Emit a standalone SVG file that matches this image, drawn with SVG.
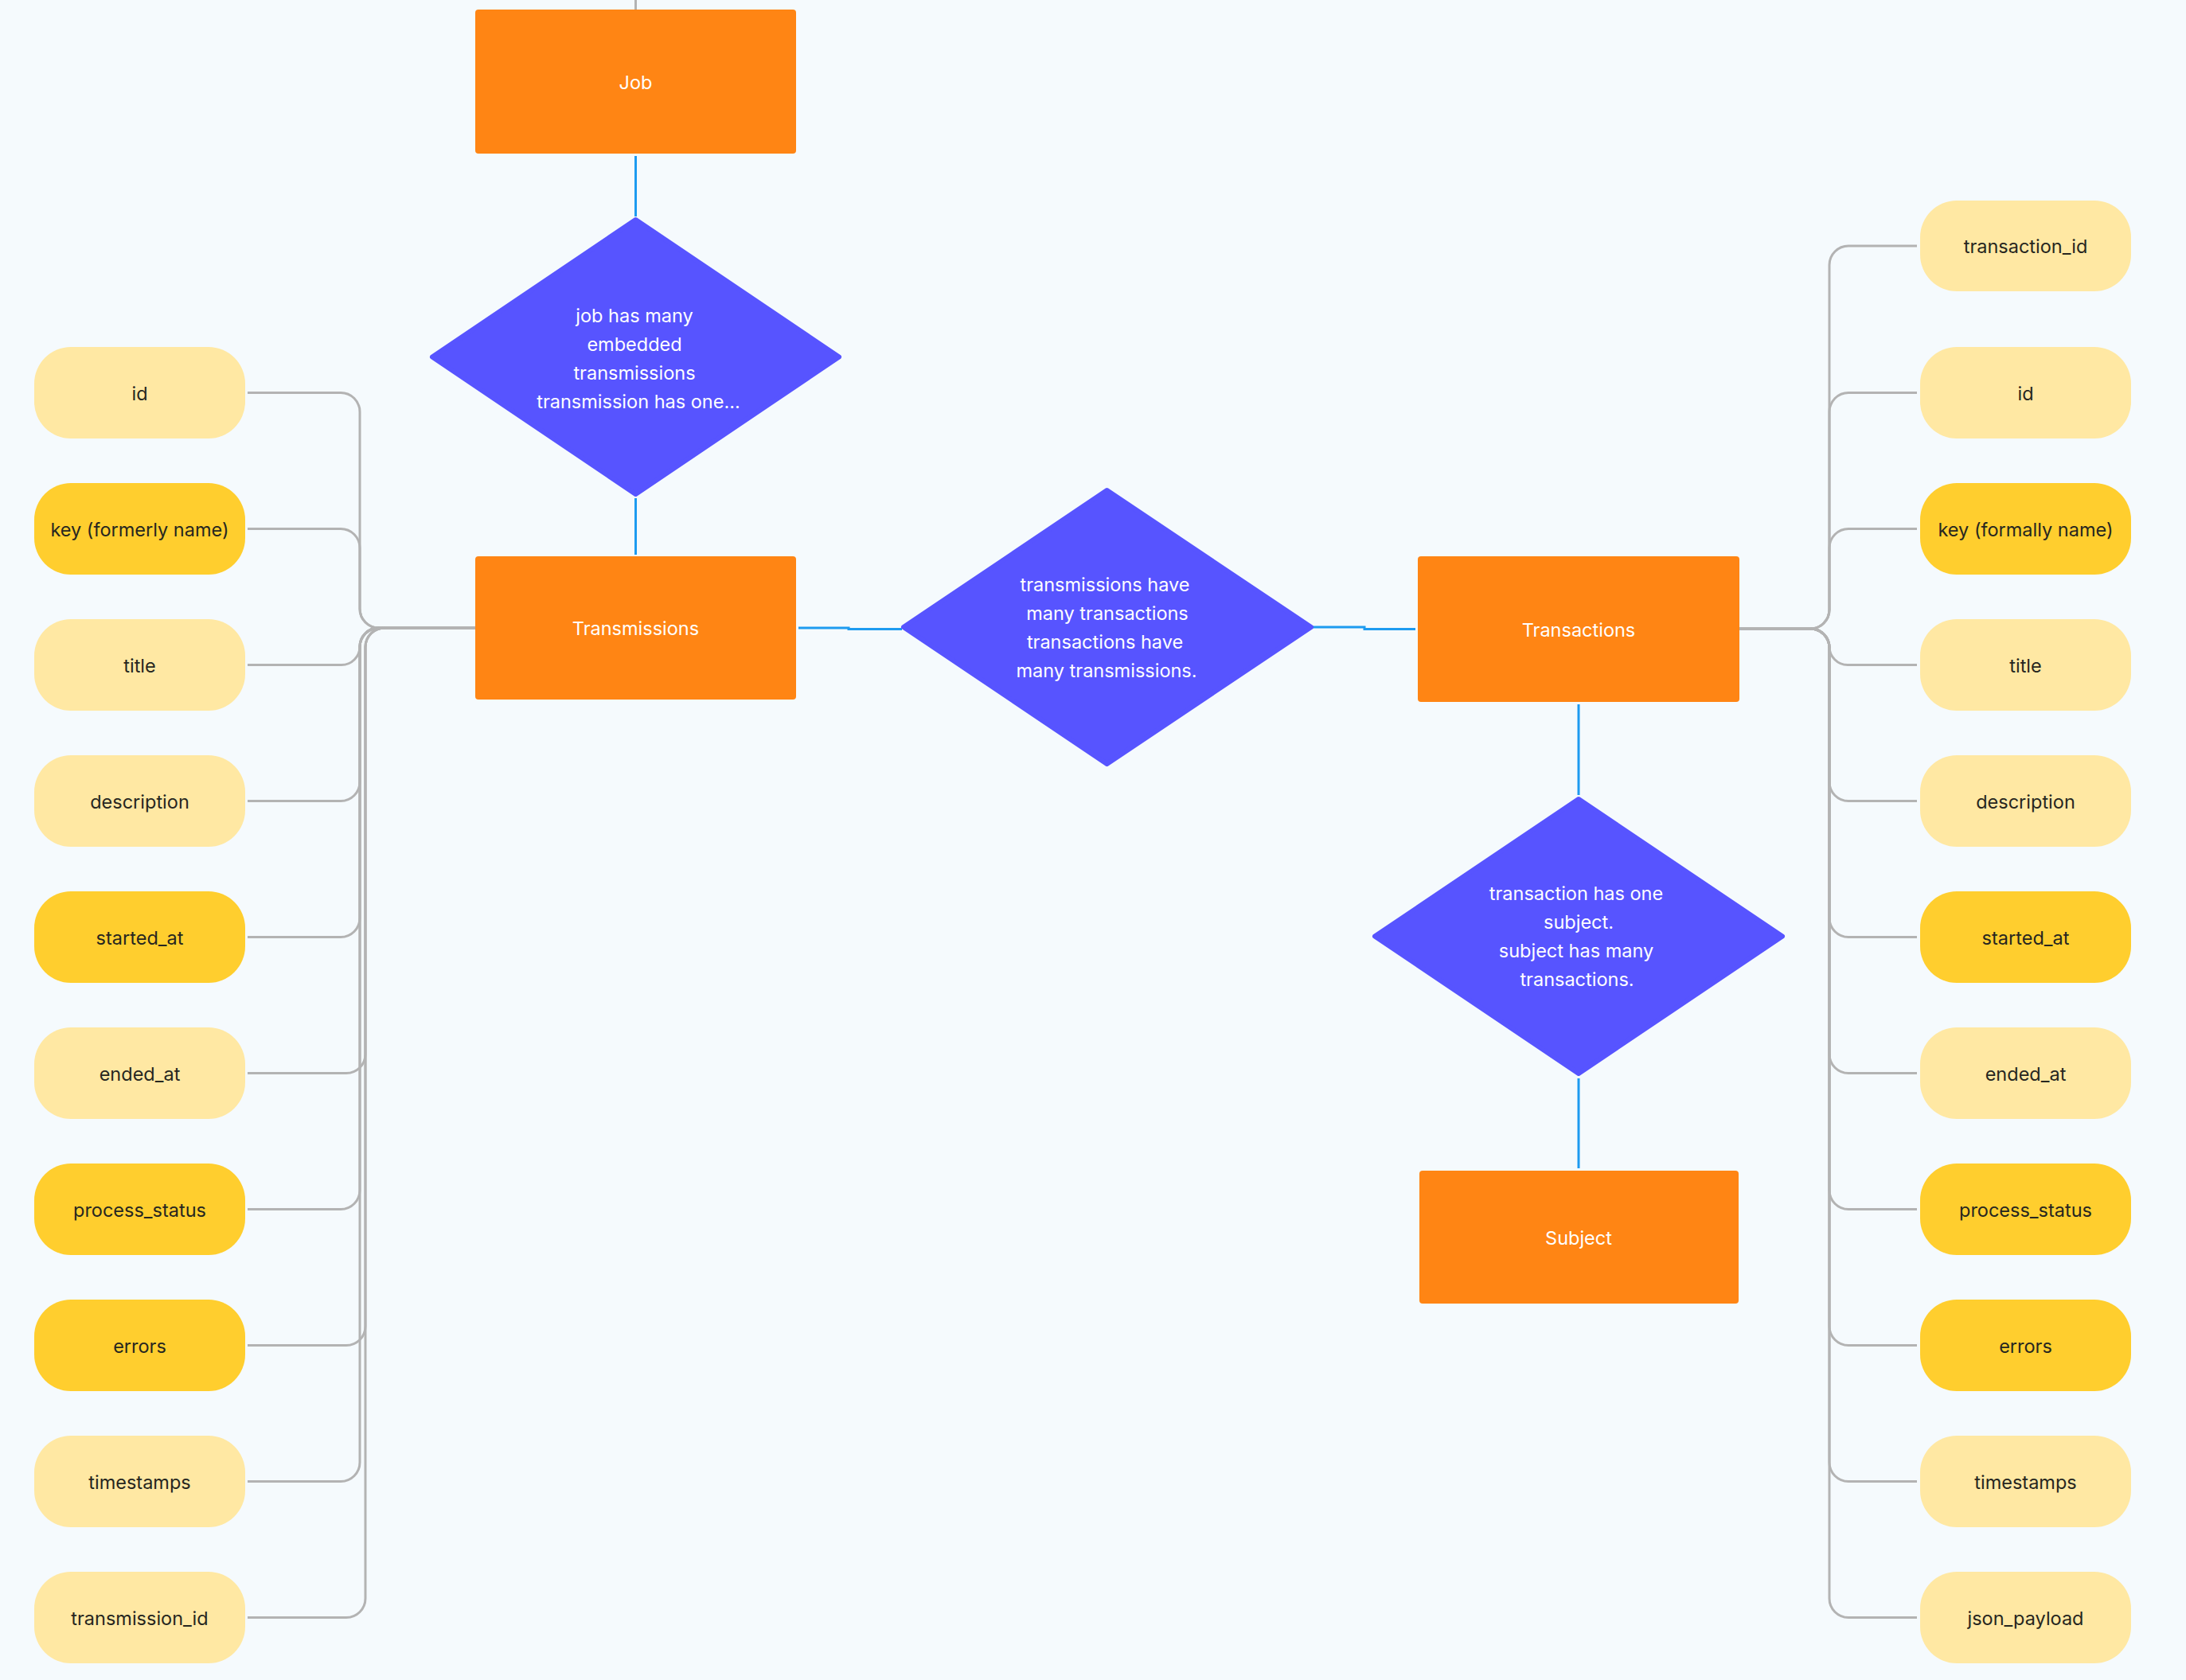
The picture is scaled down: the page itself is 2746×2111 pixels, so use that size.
<svg xmlns="http://www.w3.org/2000/svg" width="2746" height="2111" viewBox="0 0 2746 2111">
  <defs>
    <style>
      .bg { fill: #F5FAFD; }
      .entity { fill: #FF8514; }
      .rel { fill: #5754FF; stroke: #5754FF; stroke-width: 6; stroke-linejoin: round; }
      .attr-opt { fill: #FFE8A3; }
      .attr-req { fill: #FFCE2E; }
      .lbl { font-family: Inter, "Noto Sans", "Liberation Sans", sans-serif; font-size: 23.5px; text-anchor: middle; }
      .lbl-light { fill: #FFFFFF; }
      .lbl-dark { fill: #262620; }
      .link { fill: none; stroke: #1D9BF0; stroke-width: 3; }
      .attr-link { fill: none; stroke: #B3B3B3; stroke-width: 3; }
    </style>
  </defs>

  <rect class="bg" x="0" y="0" width="2746" height="2111"/>

  <!-- connectors -->
  <g id="connectors">
    <!-- relationship links -->
    <path class="attr-link" d="M798.5 0 V12"/>
    <path class="link" d="M798.5 196 V272"/>
    <path class="link" d="M798.5 626 V697"/>
    <path class="link" d="M1003 789 H1066 V790.5 H1133"/>
    <path class="link" d="M1649 788 H1714 V790.5 H1778"/>
    <path class="link" d="M1983 885 V999"/>
    <path class="link" d="M1983 1355 V1468"/>

    <!-- Transmissions attributes, trunk at x=452 -->
    <path class="attr-link" d="M311 493.5 H428 A24 24 0 0 1 452 517.5 V765 A24 24 0 0 0 476 789 H597"/>
    <path class="attr-link" d="M311 664.5 H428 A24 24 0 0 1 452 688.5 V765 A24 24 0 0 0 476 789 H597"/>
    <path class="attr-link" d="M597 789 H475 A23 23 0 0 0 452 812 V812.5 A23 23 0 0 1 429 835.5 H311"/>
    <path class="attr-link" d="M597 789 H476 A24 24 0 0 0 452 813 V982.5 A24 24 0 0 1 428 1006.5 H311"/>
    <path class="attr-link" d="M597 789 H476 A24 24 0 0 0 452 813 V1153.5 A24 24 0 0 1 428 1177.5 H311"/>
    <path class="attr-link" d="M597 789 H476 A24 24 0 0 0 452 813 V1495.5 A24 24 0 0 1 428 1519.5 H311"/>
    <path class="attr-link" d="M597 789 H476 A24 24 0 0 0 452 813 V1837.5 A24 24 0 0 1 428 1861.5 H311"/>
    <!-- Transmissions attributes, trunk at x=459 -->
    <path class="attr-link" d="M597 789 H483 A24 24 0 0 0 459 813 V1324.5 A24 24 0 0 1 435 1348.5 H311"/>
    <path class="attr-link" d="M597 789 H483 A24 24 0 0 0 459 813 V1666.5 A24 24 0 0 1 435 1690.5 H311"/>
    <path class="attr-link" d="M597 789 H483 A24 24 0 0 0 459 813 V2008.5 A24 24 0 0 1 435 2032.5 H311"/>

    <!-- Transactions attributes, trunk at x=2298 -->
    <path class="attr-link" d="M2185 790 H2274 A24 24 0 0 0 2298 766 V333 A24 24 0 0 1 2322 309 H2408"/>
    <path class="attr-link" d="M2185 790 H2274 A24 24 0 0 0 2298 766 V517.5 A24 24 0 0 1 2322 493.5 H2408"/>
    <path class="attr-link" d="M2185 790 H2274 A24 24 0 0 0 2298 766 V688.5 A24 24 0 0 1 2322 664.5 H2408"/>
    <path class="attr-link" d="M2185 790 H2275 A23 23 0 0 1 2298 813 V812.5 A23 23 0 0 0 2321 835.5 H2408"/>
    <path class="attr-link" d="M2185 790 H2274 A24 24 0 0 1 2298 814 V982.5 A24 24 0 0 0 2322 1006.5 H2408"/>
    <path class="attr-link" d="M2185 790 H2274 A24 24 0 0 1 2298 814 V1153.5 A24 24 0 0 0 2322 1177.5 H2408"/>
    <path class="attr-link" d="M2185 790 H2274 A24 24 0 0 1 2298 814 V1324.5 A24 24 0 0 0 2322 1348.5 H2408"/>
    <path class="attr-link" d="M2185 790 H2274 A24 24 0 0 1 2298 814 V1495.5 A24 24 0 0 0 2322 1519.5 H2408"/>
    <path class="attr-link" d="M2185 790 H2274 A24 24 0 0 1 2298 814 V1666.5 A24 24 0 0 0 2322 1690.5 H2408"/>
    <path class="attr-link" d="M2185 790 H2274 A24 24 0 0 1 2298 814 V1837.5 A24 24 0 0 0 2322 1861.5 H2408"/>
    <path class="attr-link" d="M2185 790 H2274 A24 24 0 0 1 2298 814 V2008.5 A24 24 0 0 0 2322 2032.5 H2408"/>
  </g>

  <!-- entities -->
  <g id="job">
    <rect class="entity" x="597" y="12" width="403" height="181" rx="4"/>
    <text class="lbl lbl-light" x="798.5" y="112">Job</text>
  </g>
  <g id="transmissions">
    <rect class="entity" x="597" y="699" width="403" height="180" rx="4"/>
    <text class="lbl lbl-light" x="798.5" y="798">Transmissions</text>
  </g>
  <g id="transactions">
    <rect class="entity" x="1781" y="699" width="404" height="183" rx="4"/>
    <text class="lbl lbl-light" x="1983" y="800">Transactions</text>
  </g>
  <g id="subject">
    <rect class="entity" x="1783" y="1471" width="401" height="167" rx="4"/>
    <text class="lbl lbl-light" x="1983" y="1564">Subject</text>
  </g>

  <!-- relationships -->
  <g id="rel-job-transmissions">
    <path class="rel" d="M798.5 276 L1054 448.5 L798.5 621 L543 448.5 Z"/>
    <text class="lbl lbl-light" x="797" y="405">job has many</text>
    <text class="lbl lbl-light" x="797" y="441">embedded</text>
    <text class="lbl lbl-light" x="797" y="477">transmissions</text>
    <text class="lbl lbl-light" x="802" y="513">transmission has one...</text>
  </g>
  <g id="rel-transmissions-transactions">
    <path class="rel" d="M1390.5 616 L1647 788 L1390.5 960 L1135 788 Z"/>
    <text class="lbl lbl-light" x="1388" y="743">transmissions have</text>
    <text class="lbl lbl-light" x="1391" y="779">many transactions</text>
    <text class="lbl lbl-light" x="1388" y="815">transactions have</text>
    <text class="lbl lbl-light" x="1390" y="851">many transmissions.</text>
  </g>
  <g id="rel-transaction-subject">
    <path class="rel" d="M1983 1004 L2239 1176.5 L1983 1349 L1727 1176.5 Z"/>
    <text class="lbl lbl-light" x="1980" y="1131">transaction has one</text>
    <text class="lbl lbl-light" x="1983" y="1167">subject.</text>
    <text class="lbl lbl-light" x="1980" y="1203">subject has many</text>
    <text class="lbl lbl-light" x="1981" y="1239">transactions.</text>
  </g>

  <!-- Transmissions attributes -->
  <g id="tm-id"><rect class="attr-opt" x="43" y="436" width="265" height="115" rx="46"/><text class="lbl lbl-dark" x="175.5" y="503">id</text></g>
  <g id="tm-key"><rect class="attr-req" x="43" y="607" width="265" height="115" rx="46"/><text class="lbl lbl-dark" x="175.5" y="674">key (formerly name)</text></g>
  <g id="tm-title"><rect class="attr-opt" x="43" y="778" width="265" height="115" rx="46"/><text class="lbl lbl-dark" x="175.5" y="845">title</text></g>
  <g id="tm-description"><rect class="attr-opt" x="43" y="949" width="265" height="115" rx="46"/><text class="lbl lbl-dark" x="175.5" y="1016">description</text></g>
  <g id="tm-started-at"><rect class="attr-req" x="43" y="1120" width="265" height="115" rx="46"/><text class="lbl lbl-dark" x="175.5" y="1187">started_at</text></g>
  <g id="tm-ended-at"><rect class="attr-opt" x="43" y="1291" width="265" height="115" rx="46"/><text class="lbl lbl-dark" x="175.5" y="1358">ended_at</text></g>
  <g id="tm-process-status"><rect class="attr-req" x="43" y="1462" width="265" height="115" rx="46"/><text class="lbl lbl-dark" x="175.5" y="1529">process_status</text></g>
  <g id="tm-errors"><rect class="attr-req" x="43" y="1633" width="265" height="115" rx="46"/><text class="lbl lbl-dark" x="175.5" y="1700">errors</text></g>
  <g id="tm-timestamps"><rect class="attr-opt" x="43" y="1804" width="265" height="115" rx="46"/><text class="lbl lbl-dark" x="175.5" y="1871">timestamps</text></g>
  <g id="tm-transmission-id"><rect class="attr-opt" x="43" y="1975" width="265" height="115" rx="46"/><text class="lbl lbl-dark" x="175.5" y="2042">transmission_id</text></g>

  <!-- Transactions attributes -->
  <g id="tx-transaction-id"><rect class="attr-opt" x="2412" y="252" width="265" height="114" rx="46"/><text class="lbl lbl-dark" x="2544.5" y="318">transaction_id</text></g>
  <g id="tx-id"><rect class="attr-opt" x="2412" y="436" width="265" height="115" rx="46"/><text class="lbl lbl-dark" x="2544.5" y="503">id</text></g>
  <g id="tx-key"><rect class="attr-req" x="2412" y="607" width="265" height="115" rx="46"/><text class="lbl lbl-dark" x="2544.5" y="674">key (formally name)</text></g>
  <g id="tx-title"><rect class="attr-opt" x="2412" y="778" width="265" height="115" rx="46"/><text class="lbl lbl-dark" x="2544.5" y="845">title</text></g>
  <g id="tx-description"><rect class="attr-opt" x="2412" y="949" width="265" height="115" rx="46"/><text class="lbl lbl-dark" x="2544.5" y="1016">description</text></g>
  <g id="tx-started-at"><rect class="attr-req" x="2412" y="1120" width="265" height="115" rx="46"/><text class="lbl lbl-dark" x="2544.5" y="1187">started_at</text></g>
  <g id="tx-ended-at"><rect class="attr-opt" x="2412" y="1291" width="265" height="115" rx="46"/><text class="lbl lbl-dark" x="2544.5" y="1358">ended_at</text></g>
  <g id="tx-process-status"><rect class="attr-req" x="2412" y="1462" width="265" height="115" rx="46"/><text class="lbl lbl-dark" x="2544.5" y="1529">process_status</text></g>
  <g id="tx-errors"><rect class="attr-req" x="2412" y="1633" width="265" height="115" rx="46"/><text class="lbl lbl-dark" x="2544.5" y="1700">errors</text></g>
  <g id="tx-timestamps"><rect class="attr-opt" x="2412" y="1804" width="265" height="115" rx="46"/><text class="lbl lbl-dark" x="2544.5" y="1871">timestamps</text></g>
  <g id="tx-json-payload"><rect class="attr-opt" x="2412" y="1975" width="265" height="115" rx="46"/><text class="lbl lbl-dark" x="2544.5" y="2042">json_payload</text></g>
</svg>
